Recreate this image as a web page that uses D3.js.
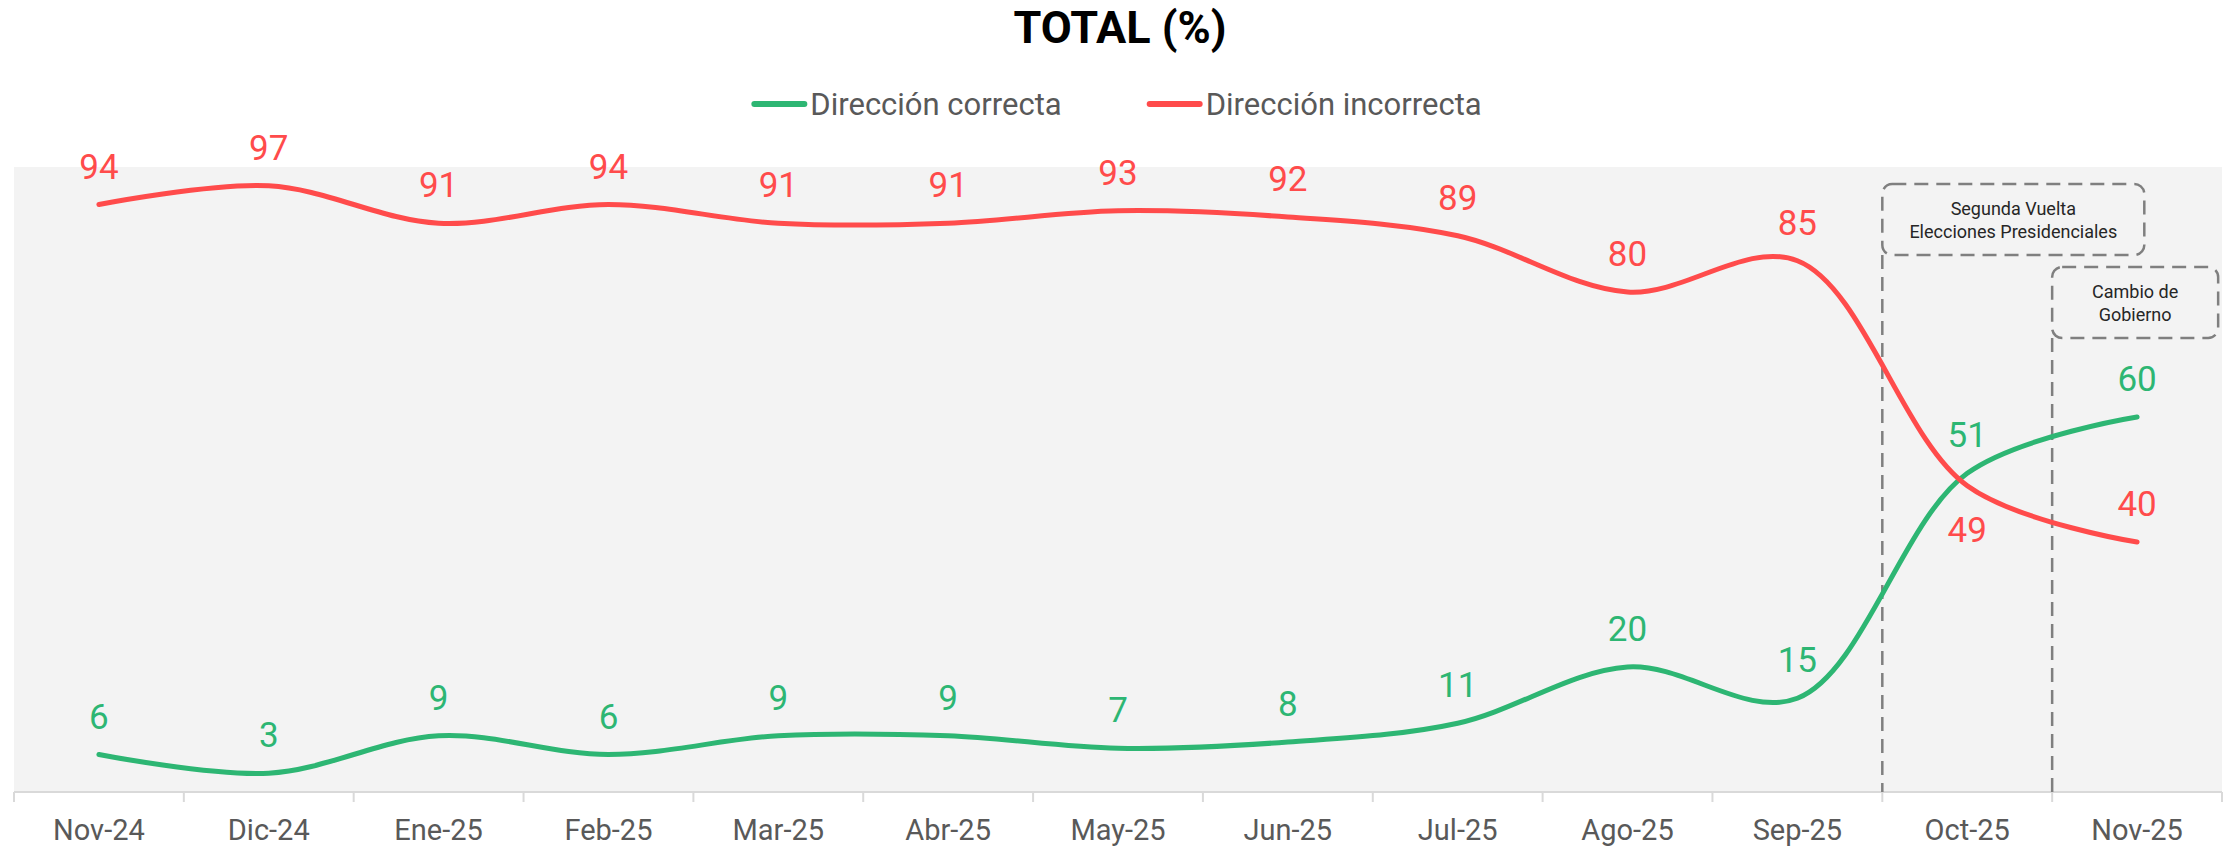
<!DOCTYPE html>
<html>
<head>
<meta charset="utf-8">
<script src="https://cdn.jsdelivr.net/npm/d3@7"></script>
<style>
  body { margin: 0; background: #fff; }
  text { font-family: Roboto, "Noto Sans", sans-serif; }
</style>
</head>
<body>
<div id="chart"></div>
<script>
var categories = ["Nov-24", "Dic-24", "Ene-25", "Feb-25", "Mar-25", "Abr-25", "May-25",
                  "Jun-25", "Jul-25", "Ago-25", "Sep-25", "Oct-25", "Nov-25"];
var correcta   = [6, 3, 9, 6, 9, 9, 7, 8, 11, 20, 15, 51, 60];
var incorrecta = [94, 97, 91, 94, 91, 91, 93, 92, 89, 80, 85, 49, 40];
var seriesNames = ["Dirección correcta", "Dirección incorrecta"];
var eventStarts = ["Oct-25", "Nov-25"];
var eventTexts = [["Segunda Vuelta", "Elecciones Presidenciales"], ["Cambio de", "Gobierno"]];

var width = 2234,
    height = 847;

var colors = ["#2db673", "#ff4b4b"];

var svg = d3.select("#chart").append("svg")
    .attr("width", width)
    .attr("height", height)

var x = d3.scaleBand()
    .domain(categories)
    .range([14, 2222])
    .padding(0);

var y = d3.scaleLinear()
    .domain([0, 100])
    .range([792, 167]);

var cx = function(c) { return x(c) + x.bandwidth() / 2; };

// plot area
svg.append("rect")
    .attr("x", 14)
    .attr("y", y(100))
    .attr("width", 2222 - 14)
    .attr("height", y(0) - y(100))
    .style("fill", "#f3f3f3");

// title
svg.append("text")
    .attr("x", width / 2 + 3)
    .attr("y", 43)
    .attr("text-anchor", "middle")
    .style("font-size", "45px")
    .style("font-weight", "bold")
    .style("fill", "#000")
    .text("TOTAL (%)");

// legend
var legend = svg.append("g");
var lx = 0;
seriesNames.forEach(function(name, i) {
  var g = legend.append("g").attr("transform", "translate(" + lx + ",0)");
  g.append("line")
      .attr("x1", 2).attr("x2", 52)
      .attr("y1", 104).attr("y2", 104)
      .style("stroke", colors[i])
      .style("stroke-width", 6)
      .style("stroke-linecap", "round");
  var t = g.append("text")
      .attr("x", 58)
      .attr("y", 115)
      .style("font-size", "31px")
      .style("fill", "#595959")
      .text(name);
  lx += 58 + t.node().getComputedTextLength() + 86;
});
lx -= 86;
legend.attr("transform", "translate(" + (width / 2 - lx / 2) + ",0)");

// x axis
var axis = svg.append("g")
    .attr("transform", "translate(0," + y(0) + ")");

axis.append("line")
    .attr("x1", 14).attr("x2", 2222)
    .style("stroke", "#d9d9d9")
    .style("stroke-width", 2);

axis.selectAll(".tick")
    .data(categories.concat(["end"]))
    .enter()
    .append("line")
      .attr("x1", function(d) { return d === "end" ? 2222 : x(d); })
      .attr("x2", function(d) { return d === "end" ? 2222 : x(d); })
      .attr("y1", 0).attr("y2", 10)
      .style("stroke", "#d9d9d9")
      .style("stroke-width", 2);

axis.selectAll(".lbl")
    .data(categories)
    .enter()
    .append("text")
      .attr("x", function(d) { return cx(d); })
      .attr("y", 48)
      .attr("text-anchor", "middle")
      .style("font-size", "29px")
      .style("fill", "#595959")
      .text(function(d) { return d; });

// event annotations
eventStarts.forEach(function(c, i) {
  var bx = x(c);
  var top = i === 0 ? 184 : 267;
  var bw = i === 0 ? 262 : 166;
  var bh = 71;
  svg.append("line")
      .attr("x1", bx).attr("x2", bx)
      .attr("y1", top + bh).attr("y2", y(0))
      .style("stroke", "#7f7f7f")
      .style("stroke-width", 2.5)
      .style("stroke-dasharray", "14,8");
  svg.append("rect")
      .attr("x", bx).attr("y", top)
      .attr("width", bw).attr("height", bh)
      .attr("rx", 10)
      .style("fill", "none")
      .style("stroke", "#7f7f7f")
      .style("stroke-width", 2.5)
      .style("stroke-dasharray", "14,8");
  eventTexts[i].forEach(function(s, j) {
    svg.append("text")
        .attr("x", bx + bw / 2)
        .attr("y", top + 31 + j * 23)
        .attr("text-anchor", "middle")
        .style("font-size", "18px")
        .style("fill", "#262626")
        .text(s);
  });
});

// lines
var line = d3.line()
    .x(function(d, i) { return cx(categories[i]); })
    .y(function(d) { return y(d); })
    .curve(d3.curveCatmullRom.alpha(0.5));

[correcta, incorrecta].forEach(function(values, k) {
  svg.append("path")
      .datum(values)
      .attr("d", line)
      .style("fill", "none")
      .style("stroke", colors[k])
      .style("stroke-width", 5)
      .style("stroke-linecap", "round");

  svg.selectAll(".val" + k)
      .data(values)
      .enter()
      .append("text")
        .attr("x", function(d, i) { return cx(categories[i]); })
        .attr("y", function(d, i) {
          // red Oct-25 label sits under its point
          if (k === 1 && categories[i] === "Oct-25") return y(d) + 56;
          return y(d) - 26;
        })
        .attr("text-anchor", "middle")
        .style("font-size", "35px")
        .style("fill", colors[k])
        .text(function(d) { return d; });
});
</script>
</body>
</html>
